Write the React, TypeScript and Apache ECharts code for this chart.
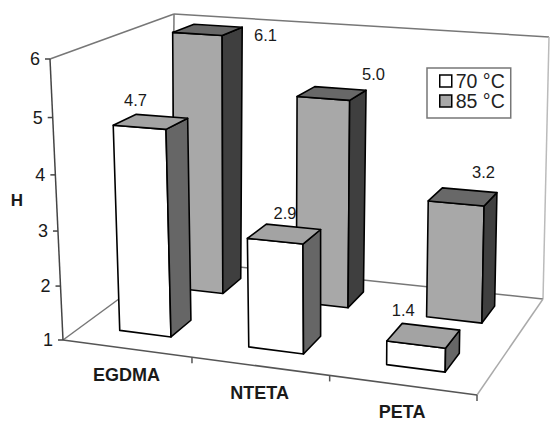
import React, { useEffect, useRef } from "react";
import * as echarts from "echarts";

const CATEGORIES = ["EGDMA", "NTETA", "PETA"];
const SERIES_70 = [4.7, 2.9, 1.4];
const SERIES_85 = [6.1, 5.0, 3.2];
const Y_TICKS = [1, 2, 3, 4, 5, 6];
const NAME_70 = "70 °C";
const NAME_85 = "85 °C";

// Screen nudges of the value labels from the centre of each bar's top face.
const NUDGE_70 = [[-15, -22], [1, -21], [-20, -26]];
const NUDGE_85 = [[58, 5], [42, -19], [21, -25]];

const FONT = '"Liberation Sans", Arial, sans-serif';

// Corners of the plot box on screen, keyed by [right, top, back].
const BOX = {
  "000": [63, 340],
  "100": [477, 395],
  "010": [50, 59],
  "110": [483, 85],
  "001": [172, 260],
  "101": [543, 299],
  "011": [174, 14],
  "111": [549, 37],
};

const lerp = (a: number, b: number, t: number) => a + (b - a) * t;
const mix = (p: number[], q: number[], t: number) => [lerp(p[0], q[0], t), lerp(p[1], q[1], t)];

// Foreshortening of a normalised coordinate along an edge of the box.
const foreshorten = (t: number, k: number) => (k * t) / (1 + (k - 1) * t);

function project(u: number, v: number, w: number) {
  const a = mix(mix(BOX["000"], BOX["100"], u), mix(BOX["001"], BOX["101"], u), w);
  const b = mix(mix(BOX["010"], BOX["110"], u), mix(BOX["011"], BOX["111"], u), w);
  return mix(a, b, v);
}

function normaliser(params: any) {
  const cs = params.coordSys;
  return {
    u: (px: number) => foreshorten((px - cs.x) / cs.width, 0.905),
    v: (py: number) => (cs.y + cs.height - py) / cs.height,
  };
}

function barRenderer(frontW: number, backW: number, rowScale: number, palette: any, values: number[], nudges: number[][]) {
  return (params: any, api: any) => {
    const i = api.value(0);
    const value = api.value(1);
    const n = normaliser(params);
    const top = api.coord([i, value]);
    const base = api.coord([i, Y_TICKS[0]]);
    const band = api.size([1, 0])[0];
    const u0 = n.u(top[0] - 0.2 * band);
    const u1 = n.u(top[0] + 0.205 * band);
    const v0 = n.v(base[1]);
    const v1 = n.v(top[1]) * rowScale;

    const fbl = project(u0, v0, frontW);
    const fbr = project(u1, v0, frontW);
    const bbr = project(u1, v0, backW);
    const ftl = project(u0, v1, frontW);
    const ftr = project(u1, v1, frontW);
    const btr = project(u1, v1, backW);
    const btl = project(u0, v1, backW);

    const edge = { stroke: "#000", lineWidth: 1.6, lineJoin: "round" };
    const nudge = nudges[i];
    const labelX = (ftl[0] + btr[0]) / 2 + nudge[0];
    const labelY = (ftl[1] + btr[1]) / 2 + nudge[1];

    return {
      type: "group",
      children: [
        { type: "polygon", shape: { points: [fbl, fbr, ftr, ftl] }, style: { fill: palette.front, ...edge } },
        { type: "polygon", shape: { points: [fbr, bbr, btr, ftr] }, style: { fill: palette.side, ...edge } },
        { type: "polygon", shape: { points: [ftl, ftr, btr, btl] }, style: { fill: palette.top, ...edge } },
        {
          type: "text",
          style: {
            x: labelX,
            y: labelY,
            text: values[i].toFixed(1),
            font: `16.5px ${FONT}`,
            fill: "#1a1a1a",
            align: "center",
            verticalAlign: "middle",
            textAlign: "center",
            textVerticalAlign: "middle",
          },
        },
      ],
    };
  };
}

function frameRenderer(params: any, api: any) {
  const n = normaliser(params);
  const line = (p: number[], q: number[], stroke: string, lineWidth = 1.5) => ({
    type: "line",
    shape: { x1: p[0], y1: p[1], x2: q[0], y2: q[1] },
    style: { stroke, lineWidth },
  });
  const text = (x: number, y: number, t: string, font: string) => ({
    type: "text",
    style: {
      x,
      y,
      text: t,
      font,
      fill: "#1a1a1a",
      align: "center",
      verticalAlign: "middle",
      textAlign: "center",
      textVerticalAlign: "middle",
    },
  });

  const children: any[] = [
    line(BOX["010"], BOX["011"], "#777"),
    line(BOX["011"], BOX["111"], "#777"),
    line(BOX["011"], BOX["001"], "#777"),
    line(BOX["111"], BOX["101"], "#bbb"),
    line(BOX["001"], BOX["101"], "#777"),
    line(BOX["000"], BOX["001"], "#777"),
    line(BOX["101"], BOX["100"], "#aaa"),
    line(BOX["000"], BOX["100"], "#555"),
    line(BOX["010"], BOX["000"], "#444"),
  ];

  Y_TICKS.forEach((t) => {
    const v = foreshorten(n.v(api.coord([0, t])[1]), 0.95);
    const p = project(0, v, 0);
    children.push(line([p[0] - 5, p[1]], p, "#444"));
    children.push(text(p[0] - 15, p[1], String(t), `18px ${FONT}`));
  });

  CATEGORIES.forEach((c, i) => {
    const mid = api.coord([i, Y_TICKS[0]]);
    const band = api.size([1, 0])[0];
    const b = project(n.u(mid[0] + band / 2), 0, 0);
    children.push(line(b, [b[0], b[1] + 6], "#555"));
    const p = project(n.u(mid[0]), 0, 0);
    children.push(text(p[0], p[1] + 27, c, `bold 18px ${FONT}`));
  });

  children.push(text(17, 200, "H", `bold 17px ${FONT}`));
  return { type: "group", children };
}

export default function App() {
  const ref = useRef<HTMLDivElement>(null);

  useEffect(() => {
    const chart = echarts.init(ref.current!, undefined, { renderer: "svg" });
    const palette70 = { front: "#ffffff", side: "#666666", top: "#a3a3a3" };
    const palette85 = { front: "#a8a8a8", side: "#3f3f3f", top: "#686868" };
    chart.setOption({
      animation: false,
      backgroundColor: "#ffffff",
      grid: { left: 50, right: 50, top: 50, bottom: 50 },
      xAxis: { type: "category", data: CATEGORIES, show: false },
      yAxis: { type: "value", min: 1, max: 6, interval: 1, show: false },
      legend: {
        left: 427,
        top: 68,
        orient: "vertical",
        selectedMode: false,
        padding: [3, 6, 7, 12],
        itemGap: 0,
        itemWidth: 12,
        itemHeight: 12,
        borderColor: "#777",
        borderWidth: 1.5,
        backgroundColor: "#fff",
        textStyle: { fontFamily: FONT, fontSize: 19.5, color: "#222", padding: [0, 0, 0, -1] },
        data: [
          { name: NAME_70, icon: "rect", itemStyle: { color: palette70.front, borderColor: "#000", borderWidth: 1.5 } },
          { name: NAME_85, icon: "rect", itemStyle: { color: palette85.front, borderColor: "#000", borderWidth: 1.5 } },
        ],
      },
      series: [
        {
          type: "custom",
          name: "frame",
          silent: true,
          z: 1,
          data: [[0, 1]],
          encode: { x: 0, y: 1 },
          renderItem: frameRenderer,
        },
        {
          type: "custom",
          name: NAME_85,
          silent: true,
          z: 2,
          itemStyle: { color: palette85.front },
          data: SERIES_85.map((v, i) => [i, v]),
          encode: { x: 0, y: 1 },
          renderItem: barRenderer(0.7, 0.88, 0.97, palette85, SERIES_85, NUDGE_85),
        },
        {
          type: "custom",
          name: NAME_70,
          silent: true,
          z: 3,
          itemStyle: { color: palette70.front },
          data: SERIES_70.map((v, i) => [i, v]),
          encode: { x: 0, y: 1 },
          renderItem: barRenderer(0.18, 0.38, 1, palette70, SERIES_70, NUDGE_70),
        },
      ],
    });
    return () => chart.dispose();
  }, []);

  return <div ref={ref} style={{ position: "absolute", left: 0, top: 0, width: 550, height: 421 }} />;
}
